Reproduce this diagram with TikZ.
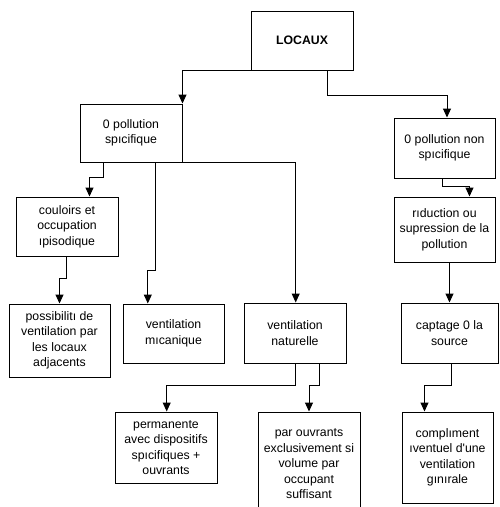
\documentclass[tikz,border=0pt]{standalone}
\usepackage{fontspec}
\setmainfont{Liberation Sans}[Ligatures=TeXOff]
\usetikzlibrary{arrows.meta,calc}
\tikzset{
  box/.style={draw=black,line width=1pt,fill=white,inner sep=0pt,align=center,
    font=\fontsize{12.3}{15.5}\selectfont},
  conn/.style={draw=black,line width=1pt,-{Triangle[length=9pt,width=8pt]}},
}
\begin{document}
\begin{tikzpicture}[x=1pt,y=-1pt]
\useasboundingbox (0,0) rectangle (499,507);
\clip (0,0) rectangle (499,507);
\fill[white] (0,0) rectangle (499,507);
% boxes
\node[box,minimum width=102pt,minimum height=59pt] (loc) at (302,40.5) {\bfseries LOCAUX};
\node[box,minimum width=102pt,minimum height=58pt] (ps) at (131,133) {0 pollution\\spıcifique};
\node[box,minimum width=101pt,minimum height=60pt] (pns) at (444.5,148) {0 pollution non\\spıcifique};
\node[box,minimum width=102pt,minimum height=59pt] (cou) at (67,226.5) {couloirs et\\occupation\\ıpisodique};
\node[box,minimum width=101pt,minimum height=65pt] (red) at (444.5,229.5) {rıduction ou\\supression de la\\pollution};
\node[box,minimum width=101pt,minimum height=73pt] (pos) at (59.5,340.5) {possibilitı de\\ventilation par\\les locaux\\adjacents};
\node[box,minimum width=101pt,minimum height=59pt] (mec) at (173.5,333.5) {ventilation\\mıcanique};
\node[box,minimum width=102pt,minimum height=60pt] (nat) at (295,333) {ventilation\\naturelle};
\node[box,minimum width=97pt,minimum height=60pt] (cap) at (449.5,333) {captage 0 la\\source};
\node[box,minimum width=102pt,minimum height=71pt] (per) at (166,447.5) {permanente\\avec dispositifs\\spıcifiques +\\ouvrants};
\node[box,minimum width=102pt,minimum height=104pt] (par) at (309,464) {par ouvrants\\exclusivement si\\volume par\\occupant\\suffisant};
\node[box,minimum width=91pt,minimum height=91pt] (com) at (447.5,457.5) {complıment\\ıventuel d'une\\ventilation\\gınırale};
% connectors
\draw[conn] (loc.south) -| (ps.north east);
\draw[conn] ($(loc.south)+(25,0)$) -- ++(0,25) -| ($(pns.north)+(2.5,0)$);
\draw[conn] ($(ps.south west)+(24.3,0)$) -- ++(0,15) -| ($(cou.north west)+(74,0)$);
\draw[conn] ($(ps.south west)+(76,0)$) -- ++(0,108) -| ($(mec.north west)+(25.3,0)$);
\draw[conn] (ps.south east) -| ($(nat.north)+(0.7,0)$);
\draw[conn] ($(cou.south west)+(50.7,0)$) -- ++(0,22) -| (pos.north);
\draw[conn] ($(pns.south west)+(49,0)$) -- ++(0,8) -| ($(red.north west)+(76,0)$);
\draw[conn] ($(red.south west)+(56,0)$) -- ($(cap.north west)+(49,0)$);
\draw[conn] ($(nat.south west)+(52,0)$) -- ++(0,22) -| ($(per.north)+(0.7,0)$);
\draw[conn] ($(nat.south west)+(76,0)$) -- ++(0,22) -| (par.north);
\draw[conn] ($(cap.south west)+(51,0)$) -- ++(0,22) -| ($(com.north west)+(23,0)$);
\end{tikzpicture}
\end{document}
